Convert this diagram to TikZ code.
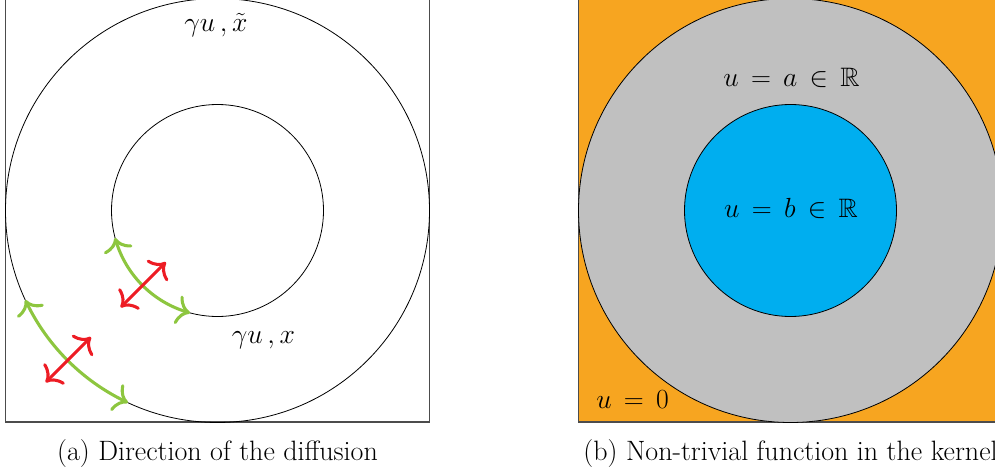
\documentclass[tikz,border=0pt]{standalone}
\usepackage{amssymb}
\usepackage{fontspec}
\usetikzlibrary{arrows.meta,bending}
\definecolor{arrgreen}{HTML}{8DC63F}
\definecolor{arrred}{HTML}{ED1C24}
\definecolor{bgorange}{HTML}{F7A520}
\definecolor{ringgray}{HTML}{C0C0C0}
\definecolor{coreblue}{HTML}{00AEEF}
\tikzset{
  framebox/.style={draw=black!70, line width=0.8pt},
  circline/.style={draw=black, line width=0.6pt},
  greenarr/.style={draw=arrgreen, line width=2.3pt, {To[length=10pt,width=22pt]}-{To[length=10pt,width=22pt]}},
  redarr/.style={draw=arrred, line width=2.3pt, {To[length=10pt,width=22pt]}-{To[length=10pt,width=22pt]}},
  mlabel/.style={inner sep=0pt, font=\fontsize{20}{24}\selectfont},
  caption/.style={inner sep=0pt, font=\fontsize{21}{24}\selectfont\addfontfeatures{LetterSpace=3}}
}
\begin{document}
\begin{tikzpicture}[x=0.75pt,y=0.75pt]
\useasboundingbox (0,0) rectangle (995,472);
\clip (0,0) rectangle (995,472);
\coordinate (CL) at (217.5,261.5);
\coordinate (CR) at (790.5,261.5);
% ---------- panel (a)
\draw[framebox] (5.5,50) rectangle (429.5,474);
\draw[circline] (CL) circle[radius=212];
\draw[circline] (CL) circle[radius=106];
\coordinate (o1) at ([shift={(205:212)}]CL);
\coordinate (i1) at ([shift={(195:106)}]CL);
\draw[greenarr] (o1) arc[start angle=205,end angle=245,radius=212];
\draw[greenarr] (i1) arc[start angle=195,end angle=255,radius=106];
\coordinate (ro1) at ([shift={(225:243)}]CL);
\coordinate (ro2) at ([shift={(225:179)}]CL);
\coordinate (ri1) at ([shift={(225:137)}]CL);
\coordinate (ri2) at ([shift={(225:73)}]CL);
\draw[redarr] (ro1) -- (ro2);
\draw[redarr] (ri1) -- (ri2);
\node[mlabel, anchor=base] (gt) at (216,440) {$\gamma u\,,\tilde{x}$};
\node[mlabel, anchor=base] (gx) at (263.5,129) {$\gamma u\,,x$};
\node[caption, anchor=base] (capa) at (217.5,12) {(a) Direction of the diffusion};
% ---------- panel (b)
\fill[bgorange] (578.5,50) rectangle (1002.5,474);
\draw[framebox] (578.5,50) rectangle (1002.5,474);
\draw[circline, fill=ringgray] (CR) circle[radius=212];
\draw[circline, fill=coreblue] (CR) circle[radius=106];
\node[mlabel, anchor=base] (ua) at (791.5,385) {$u \,=\, a \,\in\, \mathbb{R}$};
\node[mlabel, anchor=base] (ub) at (791,255) {$u \,=\, b \,\in\, \mathbb{R}$};
\node[mlabel, anchor=base west] (u0) at (596,64) {$u \,=\, 0$};
\node[caption, anchor=base] (capb) at (790.5,12) {(b) Non-trivial function in the kernel};
\end{tikzpicture}
\end{document}
